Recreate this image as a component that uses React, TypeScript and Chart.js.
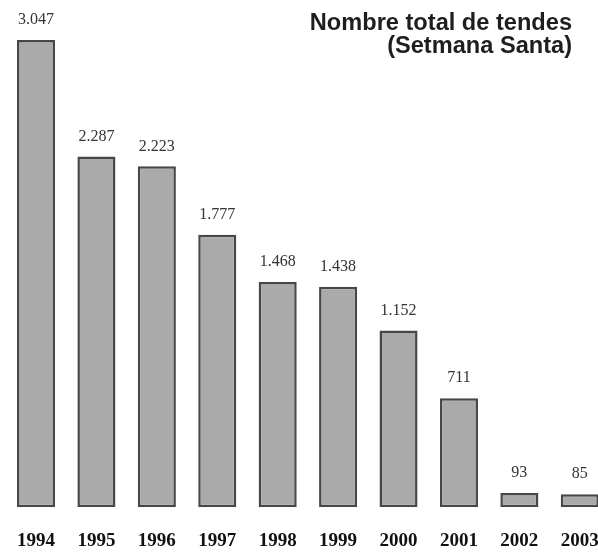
import React, { useEffect, useRef } from "react";
import { Chart, registerables } from "chart.js";

Chart.register(...registerables);

const years = ["1994", "1995", "1996", "1997", "1998", "1999", "2000", "2001", "2002", "2003"];
const shops = [3047, 2287, 2223, 1777, 1468, 1438, 1152, 711, 93, 85];
const titleLines = ["Nombre total de tendes", "(Setmana Santa)"];

const fmt = (v: number) => String(v).replace(/\B(?=(\d{3})+(?!\d))/g, ".");

const labelsPlugin = {
  id: "valueLabels",
  afterDatasetsDraw(chart: any) {
    const ctx = chart.ctx;
    const meta = chart.getDatasetMeta(0);
    ctx.save();
    ctx.font = '16px "Liberation Serif", serif';
    ctx.fillStyle = "#333333";
    ctx.textAlign = "center";
    ctx.textBaseline = "middle";
    meta.data.forEach((bar: any, i: number) => {
      ctx.fillText(fmt(shops[i]), bar.x, bar.y - 20);
    });
    ctx.font = 'bold 23.6px "Liberation Sans", Arial, sans-serif';
    ctx.fillStyle = "#1e1e1e";
    ctx.textAlign = "right";
    ctx.textBaseline = "alphabetic";
    ctx.fillText(titleLines[0], 572, 30);
    ctx.fillText(titleLines[1], 572, 53);
    ctx.restore();
  },
};

export default function App() {
  const ref = useRef<HTMLCanvasElement | null>(null);
  useEffect(() => {
    if (!ref.current) return;
    const chart = new Chart(ref.current, {
      type: "bar",
      data: {
        labels: years,
        datasets: [
          {
            data: shops,
            backgroundColor: "#aaaaaa",
            borderColor: "#474747",
            borderWidth: 2.5,
            borderSkipped: false,
            barPercentage: 0.63,
            categoryPercentage: 1,
          },
        ],
      },
      options: {
        responsive: false,
        animation: false,
        devicePixelRatio: 1,
        layout: { padding: { left: 5.8, right: 2, top: 0, bottom: 0 } },
        plugins: { legend: { display: false }, tooltip: { enabled: false }, title: { display: false } },
        scales: {
          x: {
            grid: {
              display: true,
              drawOnChartArea: false,
              drawTicks: true,
              tickLength: 22,
              tickColor: "rgba(0,0,0,0)",
              color: "rgba(0,0,0,0)",
            },
            border: { display: false },
            ticks: {
              color: "#111111",
              padding: 0,
              font: { family: '"Liberation Serif", serif', size: 19, weight: "bold" },
              maxRotation: 0,
              autoSkip: false,
            },
          },
          y: {
            display: false,
            min: 0,
            max: 3308,
          },
        },
      },
      plugins: [labelsPlugin],
    });
    return () => chart.destroy();
  }, []);
  return (
    <div
      style={{
        position: "fixed",
        left: 0,
        top: 0,
        width: 598,
        height: 552,
        overflow: "hidden",
        background: "#ffffff",
      }}
    >
      <canvas ref={ref} width={612} height={552} style={{ width: 612, height: 552, display: "block" }} />
    </div>
  );
}
